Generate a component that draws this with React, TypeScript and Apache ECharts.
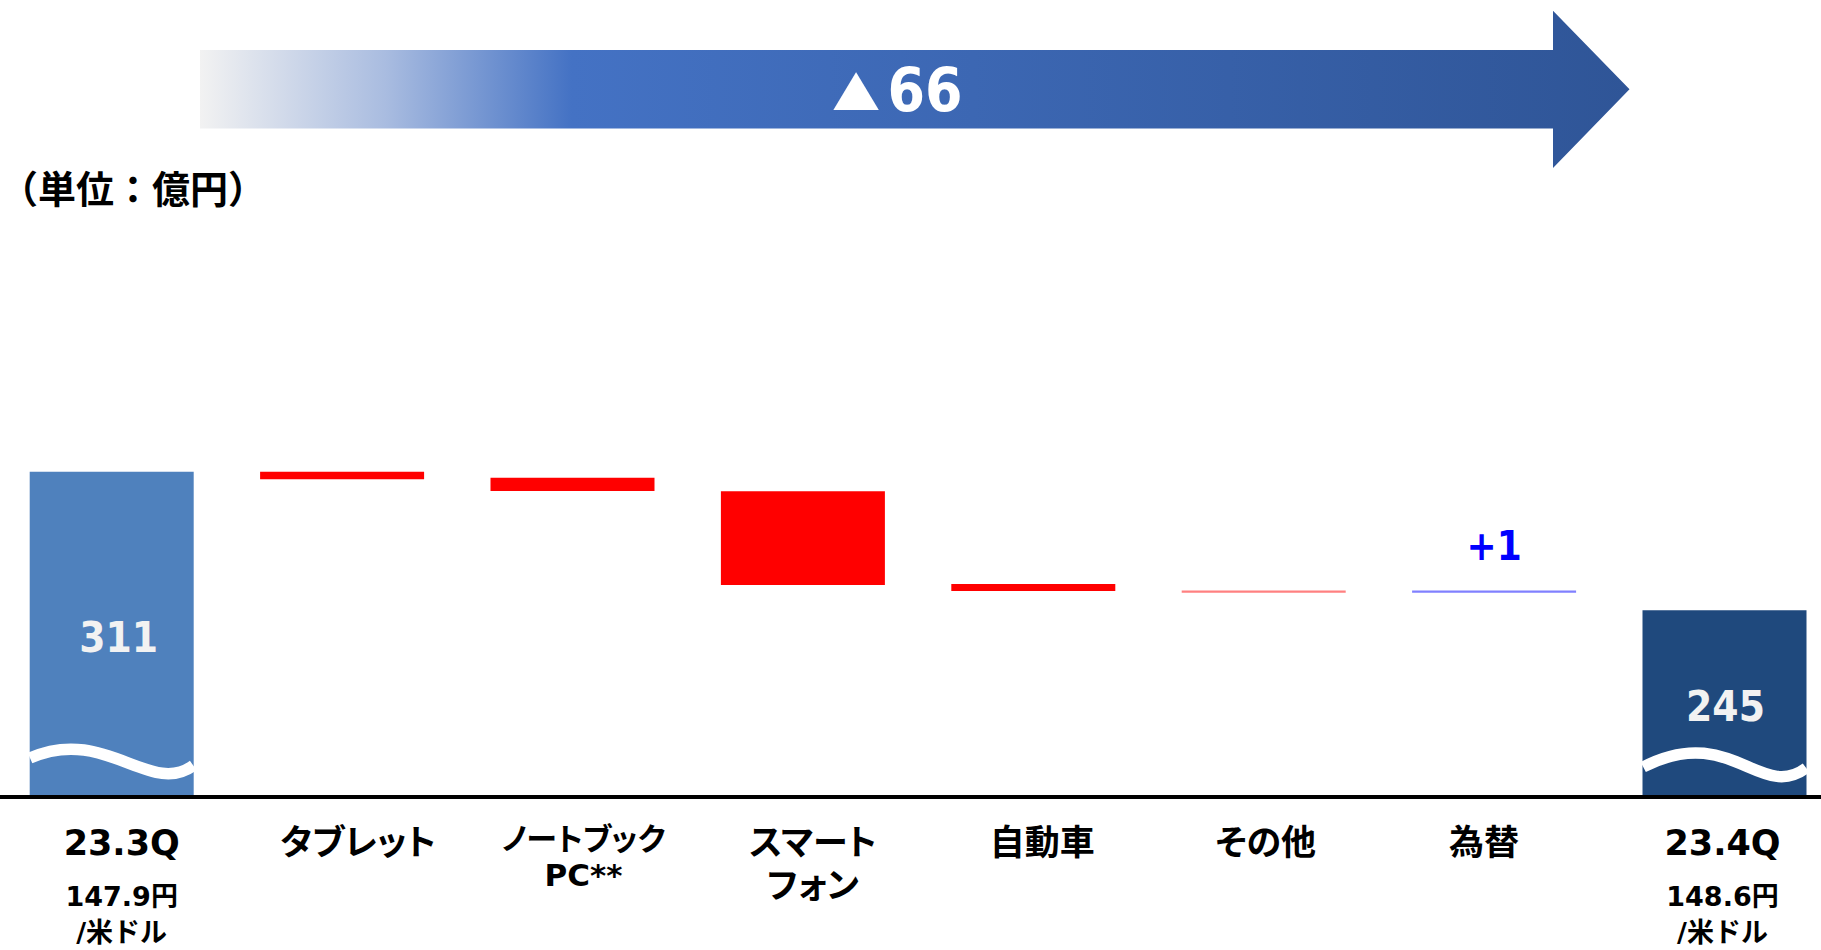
import React, { useEffect, useRef } from 'react';
import * as echarts from 'echarts';

// ---------- data ----------
const categories = ['23.3Q', 'タブレット', 'ノートブック\nPC**', 'スマート\nフォン', '自動車', 'その他', '為替', '23.4Q'];
const rateNotes = ['147.9円\n/米ドル', '', '', '', '', '', '', '148.6円\n/米ドル'];
const totalValues: (number | null)[] = [311, null, null, null, null, null, null, 245];
// floating step bars: upper and lower edge of each step (億円)
const stepUpper: (number | null)[] = [null, 311, 308.1, 301.7, 257.5, 254.4, 254.4, null];
const stepLower: (number | null)[] = [null, 307.4, 301.8, 257.0, 254.2, 253.3, 253.3, null];
const stepLabels = ['', '', '', '', '', '', '+1', ''];
const totalChangeMark = '▲';
const totalChangeValue = '66';
const unitText = '（単位：億円）';

// ---------- styling ----------
const Y_MIN = 156;
const Y_MAX = 440;
const totalColors = ['#4F81BD', '', '', '', '', '', '', '#1F497D'];
const stepColors = ['', '#FF0000', '#FF0000', '#FF0000', '#FF0000', '#FF8080', '#8080FF', ''];
const totalLabelShift = [7, 0, 0, 0, 0, 0, 0, 1];
const labelShift = [10, 16, 11, 10, 9, 2, -10, -2];
const labelSize = [35, 35, 31, 35, 35, 35, 35, 35];
const LATIN_JP = "'DejaVu Sans', 'Noto Sans CJK JP', sans-serif";
const COND = "'DejaVu Sans Condensed', 'DejaVu Sans', sans-serif";
const waveShapes: Record<number, number[][]> = {
  0: [[-81.7, -39], [-6.7, -72], [38.3, 0], [81.6, -31.5]],
  7: [[-81.3, -30], [5.7, -75], [35.7, 5], [81.7, -29]],
};

function buildRich() {
  const rich: Record<string, any> = {};
  categories.forEach((_, i) => {
    const s = labelShift[i];
    const padding = [0, s < 0 ? -2 * s : 0, 0, s > 0 ? 2 * s : 0];
    const base = { fontFamily: LATIN_JP, fontWeight: 'bold', color: '#000', padding };
    const small = labelSize[i] < 35;
    rich['m' + i] = { ...base, fontSize: labelSize[i], lineHeight: small ? 38 : 46 };
    rich['n' + i] = { ...base, fontSize: labelSize[i], lineHeight: small ? 34 : 40 };
    rich['s' + i] = { ...base, fontSize: 10, lineHeight: 12 };
    rich['b' + i] = { ...base, fontSize: 27, lineHeight: 36 };
  });
  return rich;
}

export default function App() {
  const ref = useRef<HTMLDivElement>(null);

  useEffect(() => {
    if (!ref.current) return;
    const chart = echarts.init(ref.current, null, { renderer: 'svg' });

    const baseData = stepLower.map((v) => (v == null ? '-' : v));
    const deltaData = stepUpper.map((u, i) => {
      const l = stepLower[i];
      if (u == null || l == null) return '-';
      const item: any = {
        value: +(u - l).toFixed(2),
        itemStyle: { color: stepColors[i] },
      };
      if (stepLabels[i]) {
        item.label = {
          show: true,
          position: 'top',
          distance: 24,
          formatter: stepLabels[i],
          color: '#0000FF',
          fontSize: 40,
          fontWeight: 'bold',
          fontFamily: COND,
        };
      }
      return item;
    });
    const totalData = totalValues.map((v, i) =>
      v == null
        ? '-'
        : {
            value: v,
            itemStyle: { color: totalColors[i] },
            label: {
              show: true,
              position: 'inside',
              offset: [totalLabelShift[i], 3],
              formatter: String(v),
              color: '#F2F2F2',
              fontSize: 42,
              fontWeight: 'bold',
              fontFamily: COND,
            },
          }
    );

    chart.setOption({
      animation: false,
      grid: {
        left: -3.5,
        width: 1843.2,
        top: 201,
        bottom: 153,
        containLabel: false,
        outerBoundsMode: 'none',
      },
      xAxis: {
        type: 'category',
        data: categories,
        z: 5,
        axisTick: { show: false },
        axisLine: { show: true, lineStyle: { color: '#000', width: 4 } },
        axisLabel: {
          interval: 0,
          margin: 23,
          hideOverlap: false,
          formatter: (_v: string, index: number) => {
            const lines = categories[index].split('\n');
            const out = ['{m' + index + '|' + lines[0] + '}'];
            lines.slice(1).forEach((l) => out.push('{n' + index + '|' + l + '}'));
            if (rateNotes[index]) {
              out.push('{s' + index + '| }');
              rateNotes[index].split('\n').forEach((l) => out.push('{b' + index + '|' + l + '}'));
            }
            return out.join('\n');
          },
          rich: buildRich(),
        },
      },
      yAxis: {
        type: 'value',
        min: Y_MIN,
        max: Y_MAX,
        show: false,
        splitLine: { show: false },
      },
      series: [
        {
          name: 'base',
          type: 'bar',
          stack: 'step',
          barWidth: 164,
          barGap: '-100%',
          clip: true,
          silent: true,
          itemStyle: { color: 'transparent' },
          data: baseData,
        },
        {
          name: 'change',
          type: 'bar',
          stack: 'step',
          barWidth: 164,
          barGap: '-100%',
          clip: true,
          data: deltaData,
        },
        {
          name: 'total',
          type: 'bar',
          stack: 'total',
          barWidth: 164,
          barGap: '-100%',
          clip: true,
          data: totalData,
        },
      ],
    });

    const yb = chart.convertToPixel({ yAxisIndex: 0 }, Y_MIN) as number;
    const waves: any[] = [];
    totalValues.forEach((v, i) => {
      if (v == null || !waveShapes[i]) return;
      const cx = chart.convertToPixel({ xAxisIndex: 0 }, i) as number;
      const w = waveShapes[i];
      waves.push({
        type: 'bezierCurve',
        z: 100,
        silent: true,
        shape: {
          x1: cx + w[0][0], y1: yb + w[0][1],
          cpx1: cx + w[1][0], cpy1: yb + w[1][1],
          cpx2: cx + w[2][0], cpy2: yb + w[2][1],
          x2: cx + w[3][0], y2: yb + w[3][1],
        },
        style: { stroke: '#FFFFFF', lineWidth: 11.5, fill: 'none' },
      });
    });

    chart.setOption({
      graphic: [
        {
          type: 'polygon',
          z: 50,
          silent: true,
          shape: {
            points: [
              [200, 50], [1553, 50], [1553, 10.7], [1629.5, 89.3],
              [1553, 168], [1553, 128.5], [200, 128.5],
            ],
          },
          style: {
            fill: new echarts.graphic.LinearGradient(0, 0, 1, 0, [
              { offset: 0, color: '#F2F2F2' },
              { offset: 0.13, color: '#A9BCE0' },
              { offset: 0.26, color: '#4472C4' },
              { offset: 1, color: '#2F5597' },
            ]),
          },
        },
        {
          type: 'text',
          z: 60,
          x: 856,
          y: 87,
          scaleY: 0.75,
          style: {
            text: totalChangeMark,
            fill: '#FFFFFF',
            fontSize: 66,
            fontWeight: 'bold',
            fontFamily: COND,
            align: 'center',
            verticalAlign: 'middle',
          },
        },
        {
          type: 'text',
          z: 60,
          x: 925,
          y: 90,
          style: {
            text: totalChangeValue,
            fill: '#FFFFFF',
            fontSize: 60,
            fontWeight: 'bold',
            fontFamily: COND,
            align: 'center',
            verticalAlign: 'middle',
          },
        },
        {
          type: 'text',
          z: 60,
          x: 0,
          y: 190,
          style: {
            text: unitText,
            fill: '#000000',
            fontSize: 38,
            fontWeight: 'bold',
            fontFamily: LATIN_JP,
            align: 'left',
            verticalAlign: 'middle',
          },
        },
        ...waves,
      ],
    });

    return () => chart.dispose();
  }, []);

  return (
    <>
      <style>{'.wf-chart text[style*="35px"], .wf-chart text[style*="31px"] { font-feature-settings: "palt" 1; }'}</style>
      <div
        ref={ref}
        className="wf-chart"
        style={{ position: 'fixed', left: 0, top: 0, width: 1821, height: 950, background: '#fff' }}
      />
    </>
  );
}
